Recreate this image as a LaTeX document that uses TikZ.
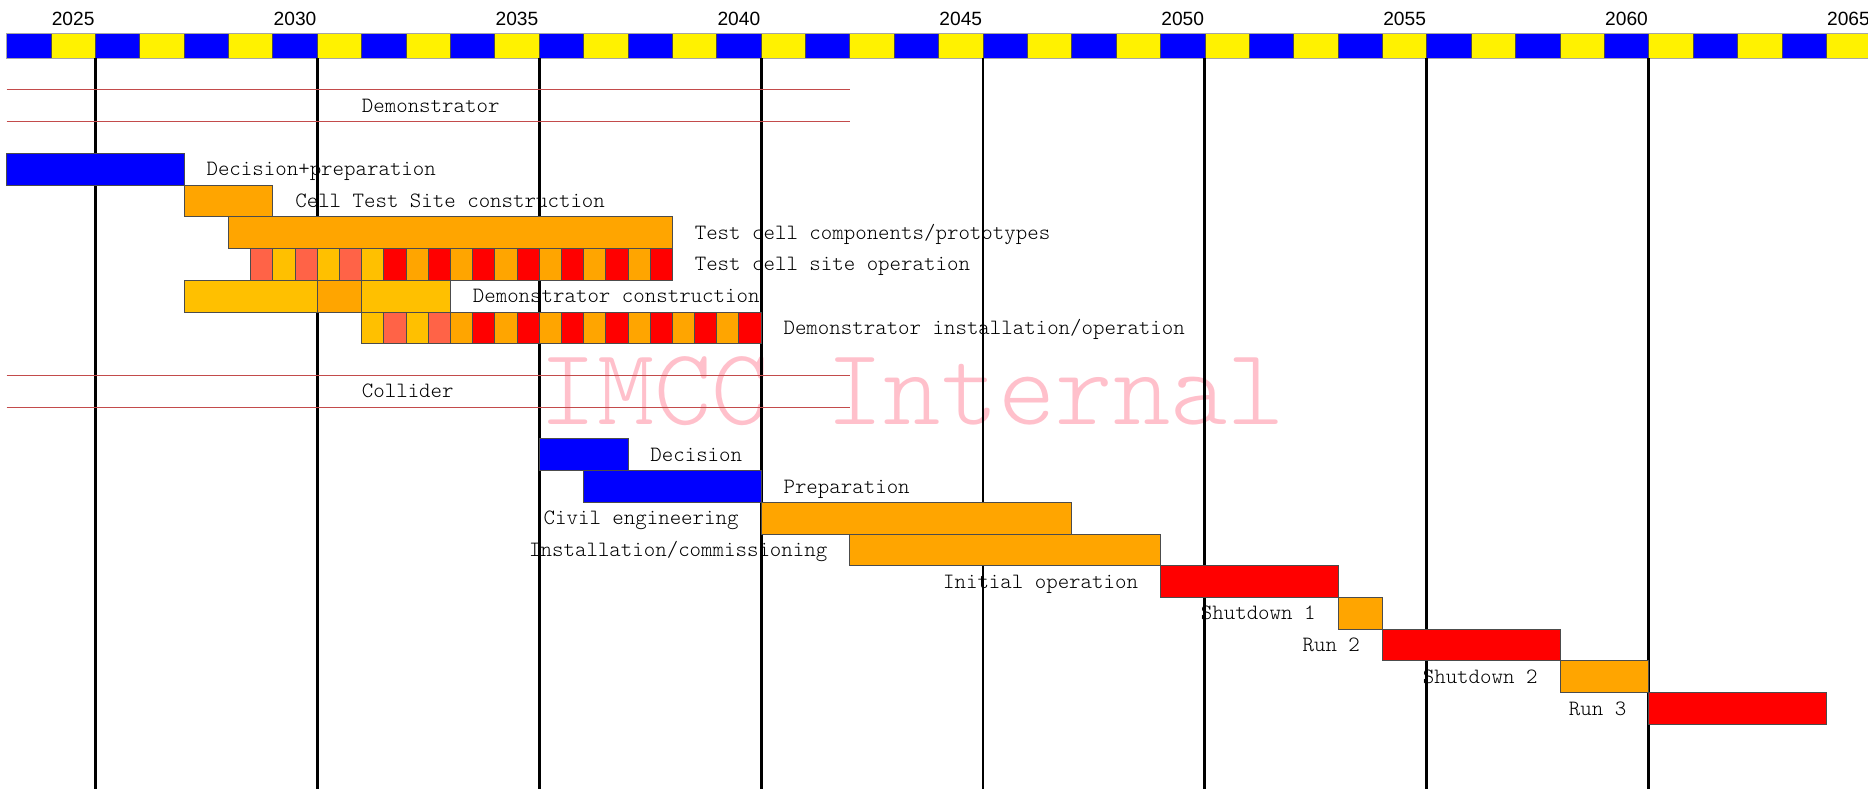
\documentclass[tikz,border=0pt]{standalone}
\usepackage{fontspec}
\usepackage{tikz}
\usetikzlibrary{positioning}
\newfontfamily\yearfont{Liberation Sans}
\newfontfamily\lightmono{Latin Modern Mono Light}
\definecolor{amber}{RGB}{255,192,0}
\definecolor{tomato}{RGB}{255,99,71}
\definecolor{ganttorange}{RGB}{255,165,0}
\definecolor{phaseline}{RGB}{195,75,75}
\definecolor{wmpink}{RGB}{255,192,203}

\begin{document}
\begin{tikzpicture}[
    x=1cm, y=0.7147cm,
    bar/.style   = {draw=black!70, line width=0.5pt},
    lbl/.style   = {font=\fontsize{14}{16}\selectfont\lightmono, inner sep=0pt, text height=8.5pt, text depth=0pt},
    yr/.style    = {font=\fontsize{12.3}{14}\selectfont\yearfont, inner sep=0pt},
    phase/.style = {draw=phaseline, line width=0.6pt},
    yline/.style = {line width=1.9pt}
  ]
  % x = years since 2023, one row per y unit
  \useasboundingbox (-0.147,4.833) rectangle (41.94,-20.01);

  % watermark
  \node[font=\fontsize{70}{72}\selectfont\lightmono, text=wmpink, inner sep=0pt] (wm) at (20.41,-7.5) {IMCC Internal};

  % year ruler
  \foreach \i in {0,2,...,40} \filldraw[bar, fill=blue] (\i,3) rectangle ++(1,0.77);
  \foreach \i in {1,3,...,41} \filldraw[bar, fill=yellow] (\i,3) rectangle ++(1,0.77);
  \draw[gray!70, line width=0.6pt] (0,3) rectangle (42,3.77);
  \foreach \y in {2025,2030,...,2065} \node[yr] (y\y) at (\y-2023-0.5,4.23) {\y};
  \foreach \y in {2025,2030,...,2060} \draw[yline] (\y-2023,3) -- (\y-2023,-20.1);

  % section headers
  \draw[phase] (0,2) -- (19,2);
  \draw[phase] (0,1) -- (19,1);
  \node[lbl, anchor=west] (demo) at (8,1.5) {Demonstrator};
  \draw[phase] (0,-7) -- (19,-7);
  \draw[phase] (0,-8) -- (19,-8);
  \node[lbl, anchor=west] (coll) at (8,-7.5) {Collider};

  % demonstrator
  \filldraw[bar, fill=blue] (0,0) rectangle (4,-1);
  \node[lbl, anchor=west] (decprep) at (4.5,-0.5) {Decision+preparation};
  \filldraw[bar, fill=ganttorange] (4,-1) rectangle (6,-2);
  \node[lbl, anchor=west] (ctsc) at (6.5,-1.5) {Cell Test Site construction};
  \filldraw[bar, fill=ganttorange] (5,-2) rectangle (15,-3);
  \node[lbl, anchor=west] (tcc) at (15.5,-2.5) {Test cell components/prototypes};
  \foreach \c [count=\n from 0] in {tomato,amber,tomato,amber,tomato,amber,red,ganttorange,red,ganttorange,red,ganttorange,red,ganttorange,red,ganttorange,red,ganttorange,red}
    \filldraw[bar, fill=\c] (5.5+0.5*\n,-3) rectangle ++(0.5,-1);
  \node[lbl, anchor=west] (tcso) at (15.5,-3.5) {Test cell site operation};
  \filldraw[bar, fill=amber] (4,-4) rectangle (7,-5);
  \filldraw[bar, fill=ganttorange] (7,-4) rectangle (8,-5);
  \filldraw[bar, fill=amber] (8,-4) rectangle (10,-5);
  \node[lbl, anchor=west] (dcon) at (10.5,-4.5) {Demonstrator construction};
  \foreach \c [count=\n from 0] in {amber,tomato,amber,tomato,ganttorange,red,ganttorange,red,ganttorange,red,ganttorange,red,ganttorange,red,ganttorange,red,ganttorange,red}
    \filldraw[bar, fill=\c] (8+0.5*\n,-5) rectangle ++(0.5,-1);
  \node[lbl, anchor=west] (dins) at (17.5,-5.5) {Demonstrator installation/operation};

  % collider
  \filldraw[bar, fill=blue] (12,-9) rectangle (14,-10);
  \node[lbl, anchor=west] (dec) at (14.5,-9.5) {Decision};
  \filldraw[bar, fill=blue] (13,-10) rectangle (17,-11);
  \node[lbl, anchor=west] (prep) at (17.5,-10.5) {Preparation};
  \filldraw[bar, fill=ganttorange] (17,-11) rectangle (24,-12);
  \node[lbl, anchor=east] (civ) at (16.5,-11.5) {Civil engineering};
  \filldraw[bar, fill=ganttorange] (19,-12) rectangle (26,-13);
  \node[lbl, anchor=east] (inst) at (18.5,-12.5) {Installation/commissioning};
  \filldraw[bar, fill=red] (26,-13) rectangle (30,-14);
  \node[lbl, anchor=east] (init) at (25.5,-13.5) {Initial operation};
  \filldraw[bar, fill=ganttorange] (30,-14) rectangle (31,-15);
  \node[lbl, anchor=east] (sd1) at (29.5,-14.5) {Shutdown 1};
  \filldraw[bar, fill=red] (31,-15) rectangle (35,-16);
  \node[lbl, anchor=east] (run2) at (30.5,-15.5) {Run 2};
  \filldraw[bar, fill=ganttorange] (35,-16) rectangle (37,-17);
  \node[lbl, anchor=east] (sd2) at (34.5,-16.5) {Shutdown 2};
  \filldraw[bar, fill=red] (37,-17) rectangle (41,-18);
  \node[lbl, anchor=east] (run3) at (36.5,-17.5) {Run 3};
\end{tikzpicture}
\end{document}
